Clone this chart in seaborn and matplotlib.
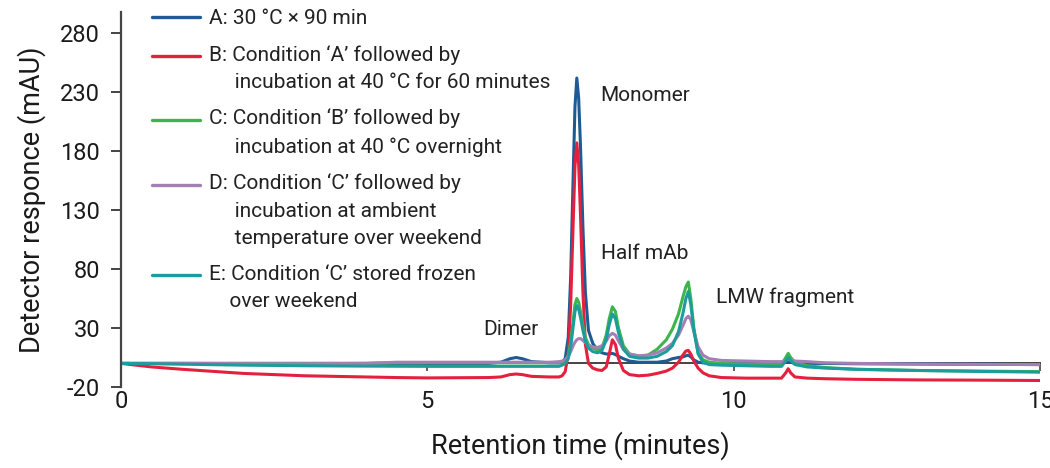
import matplotlib
matplotlib.use("Agg")
import matplotlib.pyplot as plt
from matplotlib.legend_handler import HandlerLine2D
import seaborn as sns
import pandas as pd

# Retention time grid (minutes), denser around the peaks
time_min = [0, 0.5, 1, 2, 3, 4, 4.5, 5, 6, 6.2, 6.35, 6.45, 6.55, 6.7, 7.0, 7.15,
            7.2, 7.25, 7.3, 7.34, 7.38, 7.41, 7.44, 7.47, 7.5, 7.54, 7.58, 7.63, 7.7, 7.78, 7.85,
            7.92, 7.97, 8.02, 8.07, 8.12, 8.2, 8.3, 8.45, 8.6, 8.75, 8.9,
            9.0, 9.1, 9.17, 9.22, 9.26, 9.3, 9.35, 9.42, 9.5, 9.6, 9.8,
            10.2, 10.6, 10.78, 10.85, 10.89, 10.93, 11.0, 11.2, 11.5, 12, 13, 14, 15]

# Detector response (mAU) for each sample
resp_a = [0, 0, 0, 0, 0, 0, 0, 0, 0, 1, 4, 5, 4, 1.5, 0.5, 0.5,
          1, 4, 22, 74, 158, 218, 242, 225, 184, 115, 60, 28, 17, 11, 9,
          8, 8, 8.5, 7.5, 6, 4, 2, 1, 1, 1, 2,
          4, 5, 5.5, 6.5, 7, 5.5, 3, 1, 0.5, 0, 0,
          0, 0, 0, 1, 2, 1, 0, 0, 0, -0.3, -0.5, -0.7, -1]
resp_b = [0, -3, -5, -8.5, -10.5, -11.5, -12, -12.3, -12, -11.5, -9.5, -9, -9.5, -11, -11.5, -11.5,
          -10.5, -7, 8, 50, 118, 167, 187, 169, 126, 60, 16, 0, -4, -5.5, -6,
          -3, 8, 20, 16, 4, -6, -9.5, -10.5, -10, -8.5, -6.5,
          -4, 1, 7, 10.5, 11, 8, 2, -4, -8, -10.5, -12,
          -12.5, -12.5, -12.5, -8, -4.5, -8, -11.5, -12.5, -13, -13.5, -14, -14.2, -14.5]
resp_c = [0, 0, 0, 0, 0, 0, 0.5, 0.5, 0.5, 0.5, 0.5, 0.5, 0.5, 0.5, 0.5, 0.5,
          1, 2, 7, 18, 36, 50, 55, 52, 44, 32, 22, 16, 13, 11.5, 13,
          24, 38, 48, 44, 30, 15, 8, 6, 7, 12, 20,
          29, 42, 56, 65, 69, 55, 30, 9, 3, 1, 0,
          -0.5, -1, -1, 5, 8.5, 5, 1, -2, -3.5, -5, -6, -6.5, -7]
resp_d = [0, 0, 0, -0.2, -0.3, 0, 1, 1, 1, 1, 1, 1, 1, 1, 1, 1.5,
          2, 3, 6, 10, 15, 18, 20, 21, 21, 19.5, 17.5, 15.5, 14, 13.5, 15,
          19, 23.5, 25.5, 24, 19, 12, 8, 6.5, 7, 9, 13,
          17, 24, 32, 38, 40, 37, 27, 14, 7, 4, 2.5,
          2, 1.5, 1.5, 2.5, 3.5, 3, 2, 1.5, 0.5, 0, -0.5, -0.8, -1]
resp_e = [0, -0.3, -0.7, -1.5, -2, -2.3, -2.4, -2.5, -2.5, -2.5, -2.5, -2.5, -2.5, -2.5, -2.5, -2.5,
          -1.5, 0, 4, 14, 31, 44, 49, 46, 39, 28, 19, 13, 10, 9, 11,
          20, 33, 42, 38, 26, 12, 6, 4.5, 4.5, 6, 10,
          15, 27, 42, 55, 61, 50, 28, 8, 1, -1, -1.5,
          -2, -2.5, -2.5, 2, 5, 2.5, -1, -3, -4, -5, -6, -6.8, -7.4]

sample_labels = [
    "A: 30 \u00b0C \u00d7 90 min",
    "B: Condition \u2018A\u2019 followed by\n     incubation at 40 \u00b0C for 60 minutes",
    "C: Condition \u2018B\u2019 followed by\n     incubation at 40 \u00b0C overnight",
    "D: Condition \u2018C\u2019 followed by\n     incubation at ambient\n     temperature over weekend",
    "E: Condition \u2018C\u2019 stored frozen\n    over weekend",
]
sample_colors = ["#1d5b92", "#e3213f", "#3cb54b", "#a47fb6", "#1d9c9c"]

peak_names = ["Monomer", "Half mAb", "LMW fragment", "Dimer"]
peak_label_x = [7.83, 7.83, 9.71, 5.92]
peak_label_y = [227, 93, 56, 29]

frames = []
for label, resp in zip(sample_labels, [resp_a, resp_b, resp_c, resp_d, resp_e]):
    frames.append(pd.DataFrame({"time": time_min, "mAU": resp, "sample": label}))
df = pd.concat(frames, ignore_index=True)

sns.set_theme(style="white")
plt.rcParams["font.family"] = ["Roboto", "DejaVu Sans"]
plt.rcParams["axes.unicode_minus"] = False

fig = plt.figure(figsize=(10.5, 4.68), dpi=100)
ax = fig.add_axes([0.1152, 0.1731, 0.8753, 0.8013])

sns.lineplot(data=df, x="time", y="mAU", hue="sample", palette=sample_colors,
             hue_order=sample_labels, estimator=None, sort=False,
             linewidth=2.2, legend=False, ax=ax)

ax.set_xlim(0, 15)
ax.set_ylim(-20, 298)
ax.set_yticks([-20, 30, 80, 130, 180, 230, 280])
ax.set_xticks([0, 5, 10, 15])

for side in ["top", "right"]:
    ax.spines[side].set_visible(False)
ax.spines["left"].set_color("#444444")
ax.spines["left"].set_linewidth(1.6)
ax.spines["left"].set_bounds(-20, 298)
ax.spines["bottom"].set_position(("data", 0))
ax.spines["bottom"].set_color("#444444")
ax.spines["bottom"].set_linewidth(1.4)
ax.spines["bottom"].set_zorder(0.5)

ax.tick_params(axis="y", direction="out", length=7, width=1.4, color="#444444",
               labelsize=17, pad=8, left=True, labelcolor="#1a1a1a")
ax.tick_params(axis="x", direction="out", length=6, width=1.2, color="#444444",
               labelsize=17, pad=13, bottom=True, labelcolor="#1a1a1a")

ax.set_xlabel("Retention time (minutes)", fontsize=19.5, labelpad=13, color="#1a1a1a")
ax.set_ylabel("Detector responce (mAU)", fontsize=19.5, labelpad=10, color="#1a1a1a")
ax.grid(False)

for name, x, y in zip(peak_names, peak_label_x, peak_label_y):
    ax.text(x, y, name, fontsize=15, ha="left", va="center", color="#222222")


class FirstLineHandler(HandlerLine2D):
    """Line handle placed beside the first line of a multi-line label."""

    def __init__(self, shift_pts, **kw):
        super().__init__(**kw)
        self.shift_pts = shift_pts

    def create_artists(self, legend, orig_handle, xdescent, ydescent,
                       width, height, fontsize, trans):
        return super().create_artists(legend, orig_handle, xdescent,
                                      ydescent - 2 * self.shift_pts,
                                      width, height, fontsize, trans)


leg_fs = 15
line_pitch_pts = 18.7
handles = ax.get_lines()[:5]
handler_map = {}
for h, lab in zip(handles, sample_labels):
    n = lab.count("\n") + 1
    handler_map[h] = FirstLineHandler((n - 1) / 2 * line_pitch_pts)

leg = ax.legend(handles, sample_labels, loc="upper left", bbox_to_anchor=(0.025, 1.03),
                frameon=False, fontsize=leg_fs, handlelength=2.3, handletextpad=0.4,
                labelspacing=0.8, borderaxespad=0, handler_map=handler_map)
for txt in leg.get_texts():
    txt.set_linespacing(1.56)
    txt.set_color("#222222")
for h in leg.get_lines():
    h.set_linewidth(2.4)

fig.savefig("out.png", dpi=100)
